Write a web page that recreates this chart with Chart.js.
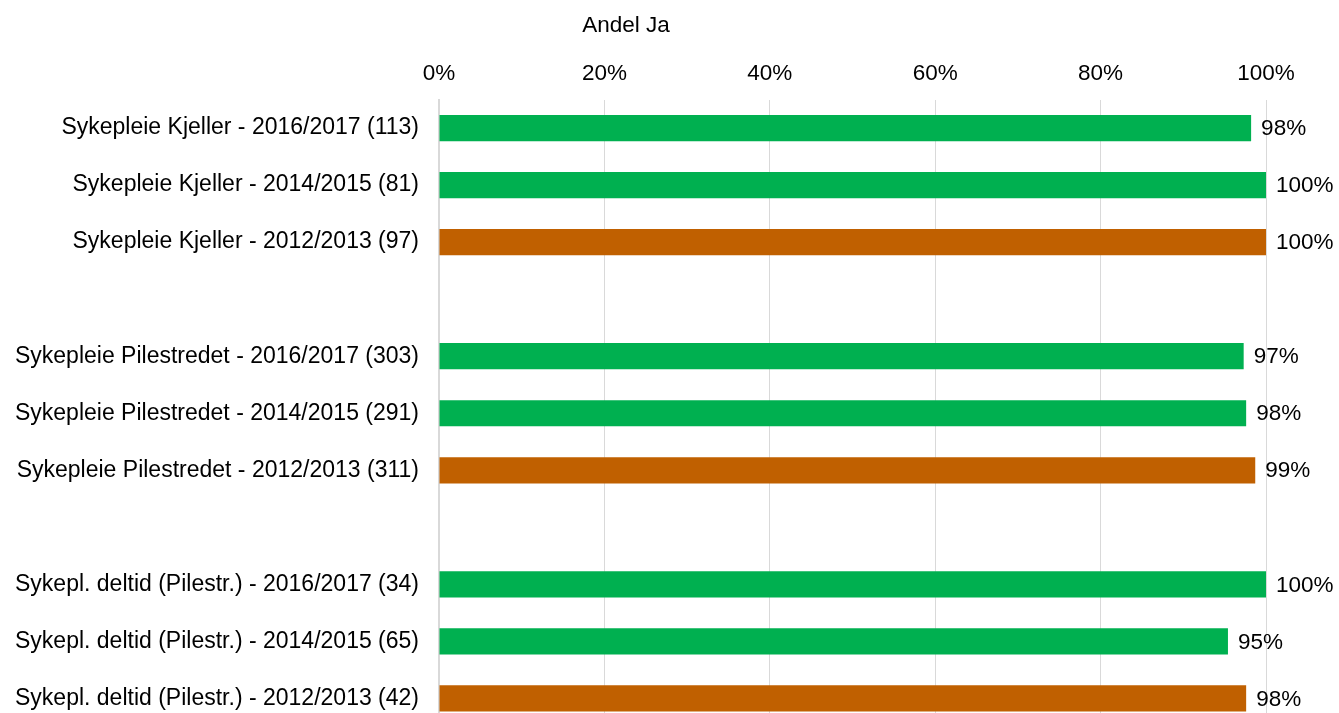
<!DOCTYPE html>
<html>
<head>
<meta charset="utf-8">
<script src="https://cdn.jsdelivr.net/npm/chart.js@4/dist/chart.umd.min.js"></script>
<style>
  html, body { margin: 0; padding: 0; background: #fff; overflow: hidden; }
  canvas { display: block; }
</style>
</head>
<body>
<canvas id="graf" width="1339" height="727" style="width:1339px;height:727px"></canvas>
<script>
// data
const kategorier = [
  "Sykepleie Kjeller - 2016/2017 (113)",
  "Sykepleie Kjeller - 2014/2015 (81)",
  "Sykepleie Kjeller - 2012/2013 (97)",
  "",
  "Sykepleie Pilestredet - 2016/2017 (303)",
  "Sykepleie Pilestredet - 2014/2015 (291)",
  "Sykepleie Pilestredet - 2012/2013 (311)",
  "",
  "Sykepl. deltid (Pilestr.) - 2016/2017 (34)",
  "Sykepl. deltid (Pilestr.) - 2014/2015 (65)",
  "Sykepl. deltid (Pilestr.) - 2012/2013 (42)"
];
const andelJa = [98.2, 100, 100, null, 97.3, 97.6, 98.7, null, 100, 95.4, 97.6];
const aarskull = ["2016/2017", "2014/2015", "2012/2013", "", "2016/2017", "2014/2015", "2012/2013", "", "2016/2017", "2014/2015", "2012/2013"];
const xTicks = [0, 20, 40, 60, 80, 100];
const tittel = "Andel Ja";

const FONT = "'Liberation Sans', Arial, sans-serif";
const farger = aarskull.map(a => a === "2012/2013" ? "#c06000" : "#00b050");

// tittel over aksen
const tittelPlugin = {
  id: "tittel",
  afterDraw(chart) {
    const ctx = chart.ctx;
    ctx.save();
    ctx.font = "22.5px " + FONT;
    ctx.fillStyle = "#000";
    ctx.textAlign = "center";
    ctx.textBaseline = "middle";
    ctx.fillText(tittel, 626, 26);
    ctx.restore();
  }
};

// prosent-etiketter til høyre for stolpene
const etiketter = {
  id: "etiketter",
  afterDatasetsDraw(chart) {
    const ctx = chart.ctx;
    const meta = chart.getDatasetMeta(0);
    ctx.save();
    ctx.font = "22.5px " + FONT;
    ctx.fillStyle = "#000";
    ctx.textAlign = "left";
    ctx.textBaseline = "middle";
    meta.data.forEach((bar, i) => {
      const v = andelJa[i];
      if (v == null) return;
      ctx.fillText(Math.round(v) + "%", bar.x + 10, bar.y + 1);
    });
    ctx.restore();
  }
};

new Chart(document.getElementById("graf"), {
  type: "bar",
  data: {
    labels: kategorier,
    datasets: [{
      data: andelJa,
      backgroundColor: farger,
      borderWidth: 0,
      barPercentage: 1,
      categoryPercentage: 0.46
    }]
  },
  options: {
    indexAxis: "y",
    responsive: false,
    maintainAspectRatio: false,
    animation: false,
    devicePixelRatio: 1,
    layout: { padding: { left: 0, right: 73, top: 0, bottom: 0 } },
    plugins: { legend: { display: false }, tooltip: { enabled: false } },
    scales: {
      x: {
        position: "top",
        min: 0,
        max: 100,
        afterBuildTicks: s => { s.ticks = xTicks.map(v => ({ value: v })); },
        afterFit: s => { s.height = 99.5; },
        grid: { color: "#d9d9d9", lineWidth: 1, drawTicks: false },
        border: { display: false },
        ticks: {
          padding: 12,
          color: "#000",
          font: { family: FONT, size: 22.5 },
          callback: v => v + "%"
        }
      },
      y: {
        afterFit: s => { s.width = 439; s.paddingTop = 0; s.paddingBottom = 0; },
        grid: { display: false, drawTicks: false },
        border: { display: true, color: "#d9d9d9", width: 2 },
        ticks: {
          padding: 20,
          color: "#000",
          font: { family: FONT, size: 23 },
          autoSkip: false
        }
      }
    }
  },
  plugins: [tittelPlugin, etiketter]
});
</script>
</body>
</html>
